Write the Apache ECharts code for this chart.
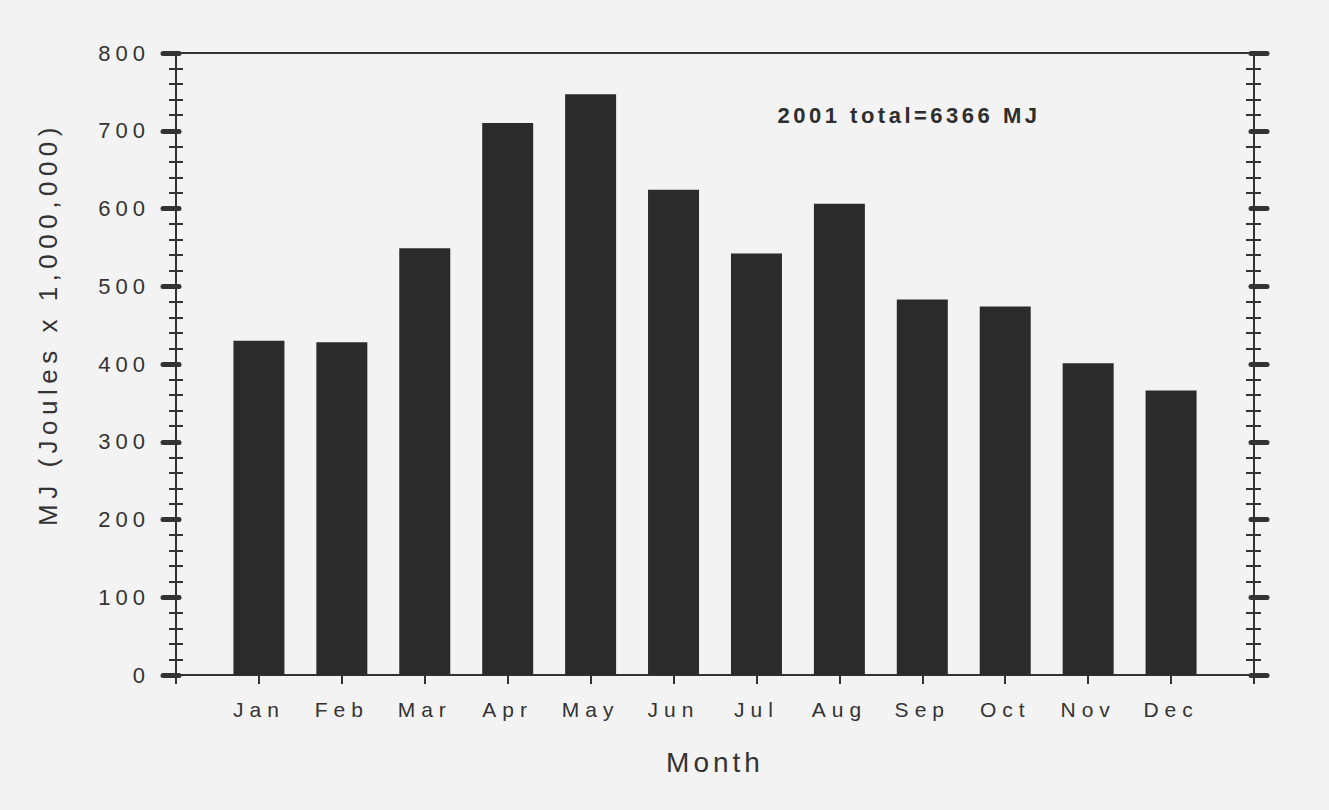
<!DOCTYPE html>
<html>
<head>
<meta charset="utf-8">
<script src="https://cdn.jsdelivr.net/npm/echarts@6/dist/echarts.min.js"></script>
<style>
html,body{margin:0;padding:0;background:#f3f3f3;}
#main{width:1329px;height:810px;}
</style>
</head>
<body>
<div id="main"></div>
<script>
var months = ['Jan','Feb','Mar','Apr','May','Jun','Jul','Aug','Sep','Oct','Nov','Dec'];
var energyMJ = [430, 428, 549, 710, 747, 624, 542, 606, 483, 474, 401, 366];
var yTicks = [0, 100, 200, 300, 400, 500, 600, 700, 800];
var yName = 'MJ (Joules x 1,000,000)';
var xName = 'Month';
var note = '2001 total=6366 MJ';

var ink = '#333333';
var font = 'Arial, "Liberation Sans", sans-serif';

function yAx(pos, inside, labels, majorLen, minorLen) {
  return {
    type: 'value', position: pos, offset: 0,
    min: yTicks[0], max: yTicks[yTicks.length - 1], interval: yTicks[1] - yTicks[0],
    axisLine: {show: true, onZero: false, lineStyle: {color: ink, width: 2}},
    axisTick: {show: true, inside: inside, length: majorLen, lineStyle: {color: ink, width: 5, cap: 'round'}},
    minorTick: {show: true, splitNumber: 5, length: minorLen, lineStyle: {color: ink, width: 2}},
    splitLine: {show: false},
    axisLabel: {show: labels, margin: 26, color: ink, fontSize: 22, fontFamily: font}
  };
}

var chart = echarts.init(document.getElementById('main'), null, {renderer: 'svg'});
chart.setOption({
  animation: false,
  backgroundColor: '#f3f3f3',
  grid: {left: 176, right: 75, top: 53, bottom: 135, containLabel: false},
  xAxis: [{
    type: 'value', min: 0, max: months.length + 1, interval: 1,
    axisLine: {show: true, onZero: false, lineStyle: {color: ink, width: 2}},
    axisTick: {show: true, length: 9, lineStyle: {color: ink, width: 2}},
    splitLine: {show: false},
    axisLabel: {
      margin: 24, color: ink, fontSize: 21, fontFamily: font,
      formatter: function (v) { return months[v - 1] || ''; }
    }
  }, {
    type: 'value', position: 'top', min: 0, max: months.length + 1,
    axisLine: {show: true, onZero: false, lineStyle: {color: ink, width: 2}},
    axisTick: {show: false}, axisLabel: {show: false}, splitLine: {show: false}
  }],
  yAxis: [
    yAx('left', false, true, 13, 7),
    yAx('left', true, false, 3, 7),
    yAx('right', false, false, 13, 7),
    yAx('right', true, false, 3, 8)
  ],
  graphic: [
    {type: 'text', left: null, x: 48, y: 324, rotation: Math.PI / 2,
      style: {text: yName, fill: ink, font: '26px ' + font, textAlign: 'center', textVerticalAlign: 'middle'}},
    {type: 'text', x: 715, y: 762,
      style: {text: xName, fill: ink, font: '28px ' + font, textAlign: 'center', textVerticalAlign: 'middle'}},
    {type: 'text', x: 909, y: 115,
      style: {text: note, fill: '#2e2e2e', font: 'bold 22px ' + font, textAlign: 'center', textVerticalAlign: 'middle'}}
  ],
  series: [{
    type: 'bar', xAxisIndex: 0, yAxisIndex: 0,
    barWidth: 51,
    itemStyle: {color: '#2b2b2b'},
    data: energyMJ.map(function (v, i) { return [i + 1, v]; })
  }]
});

function spaceText() {
  var spacing = {};
  months.forEach(function (m) { spacing[m] = 6; });
  yTicks.forEach(function (t) { spacing[String(t)] = 5; });
  spacing[yName] = 5.5;
  spacing[xName] = 4;
  spacing[note] = 3.5;
  document.querySelectorAll('#main text').forEach(function (t) {
    var s = t.textContent;
    if (spacing[s] !== undefined) { t.style.letterSpacing = spacing[s] + 'px'; }
  });
}
chart.on('finished', spaceText);
setTimeout(spaceText, 50);
</script>
</body>
</html>
